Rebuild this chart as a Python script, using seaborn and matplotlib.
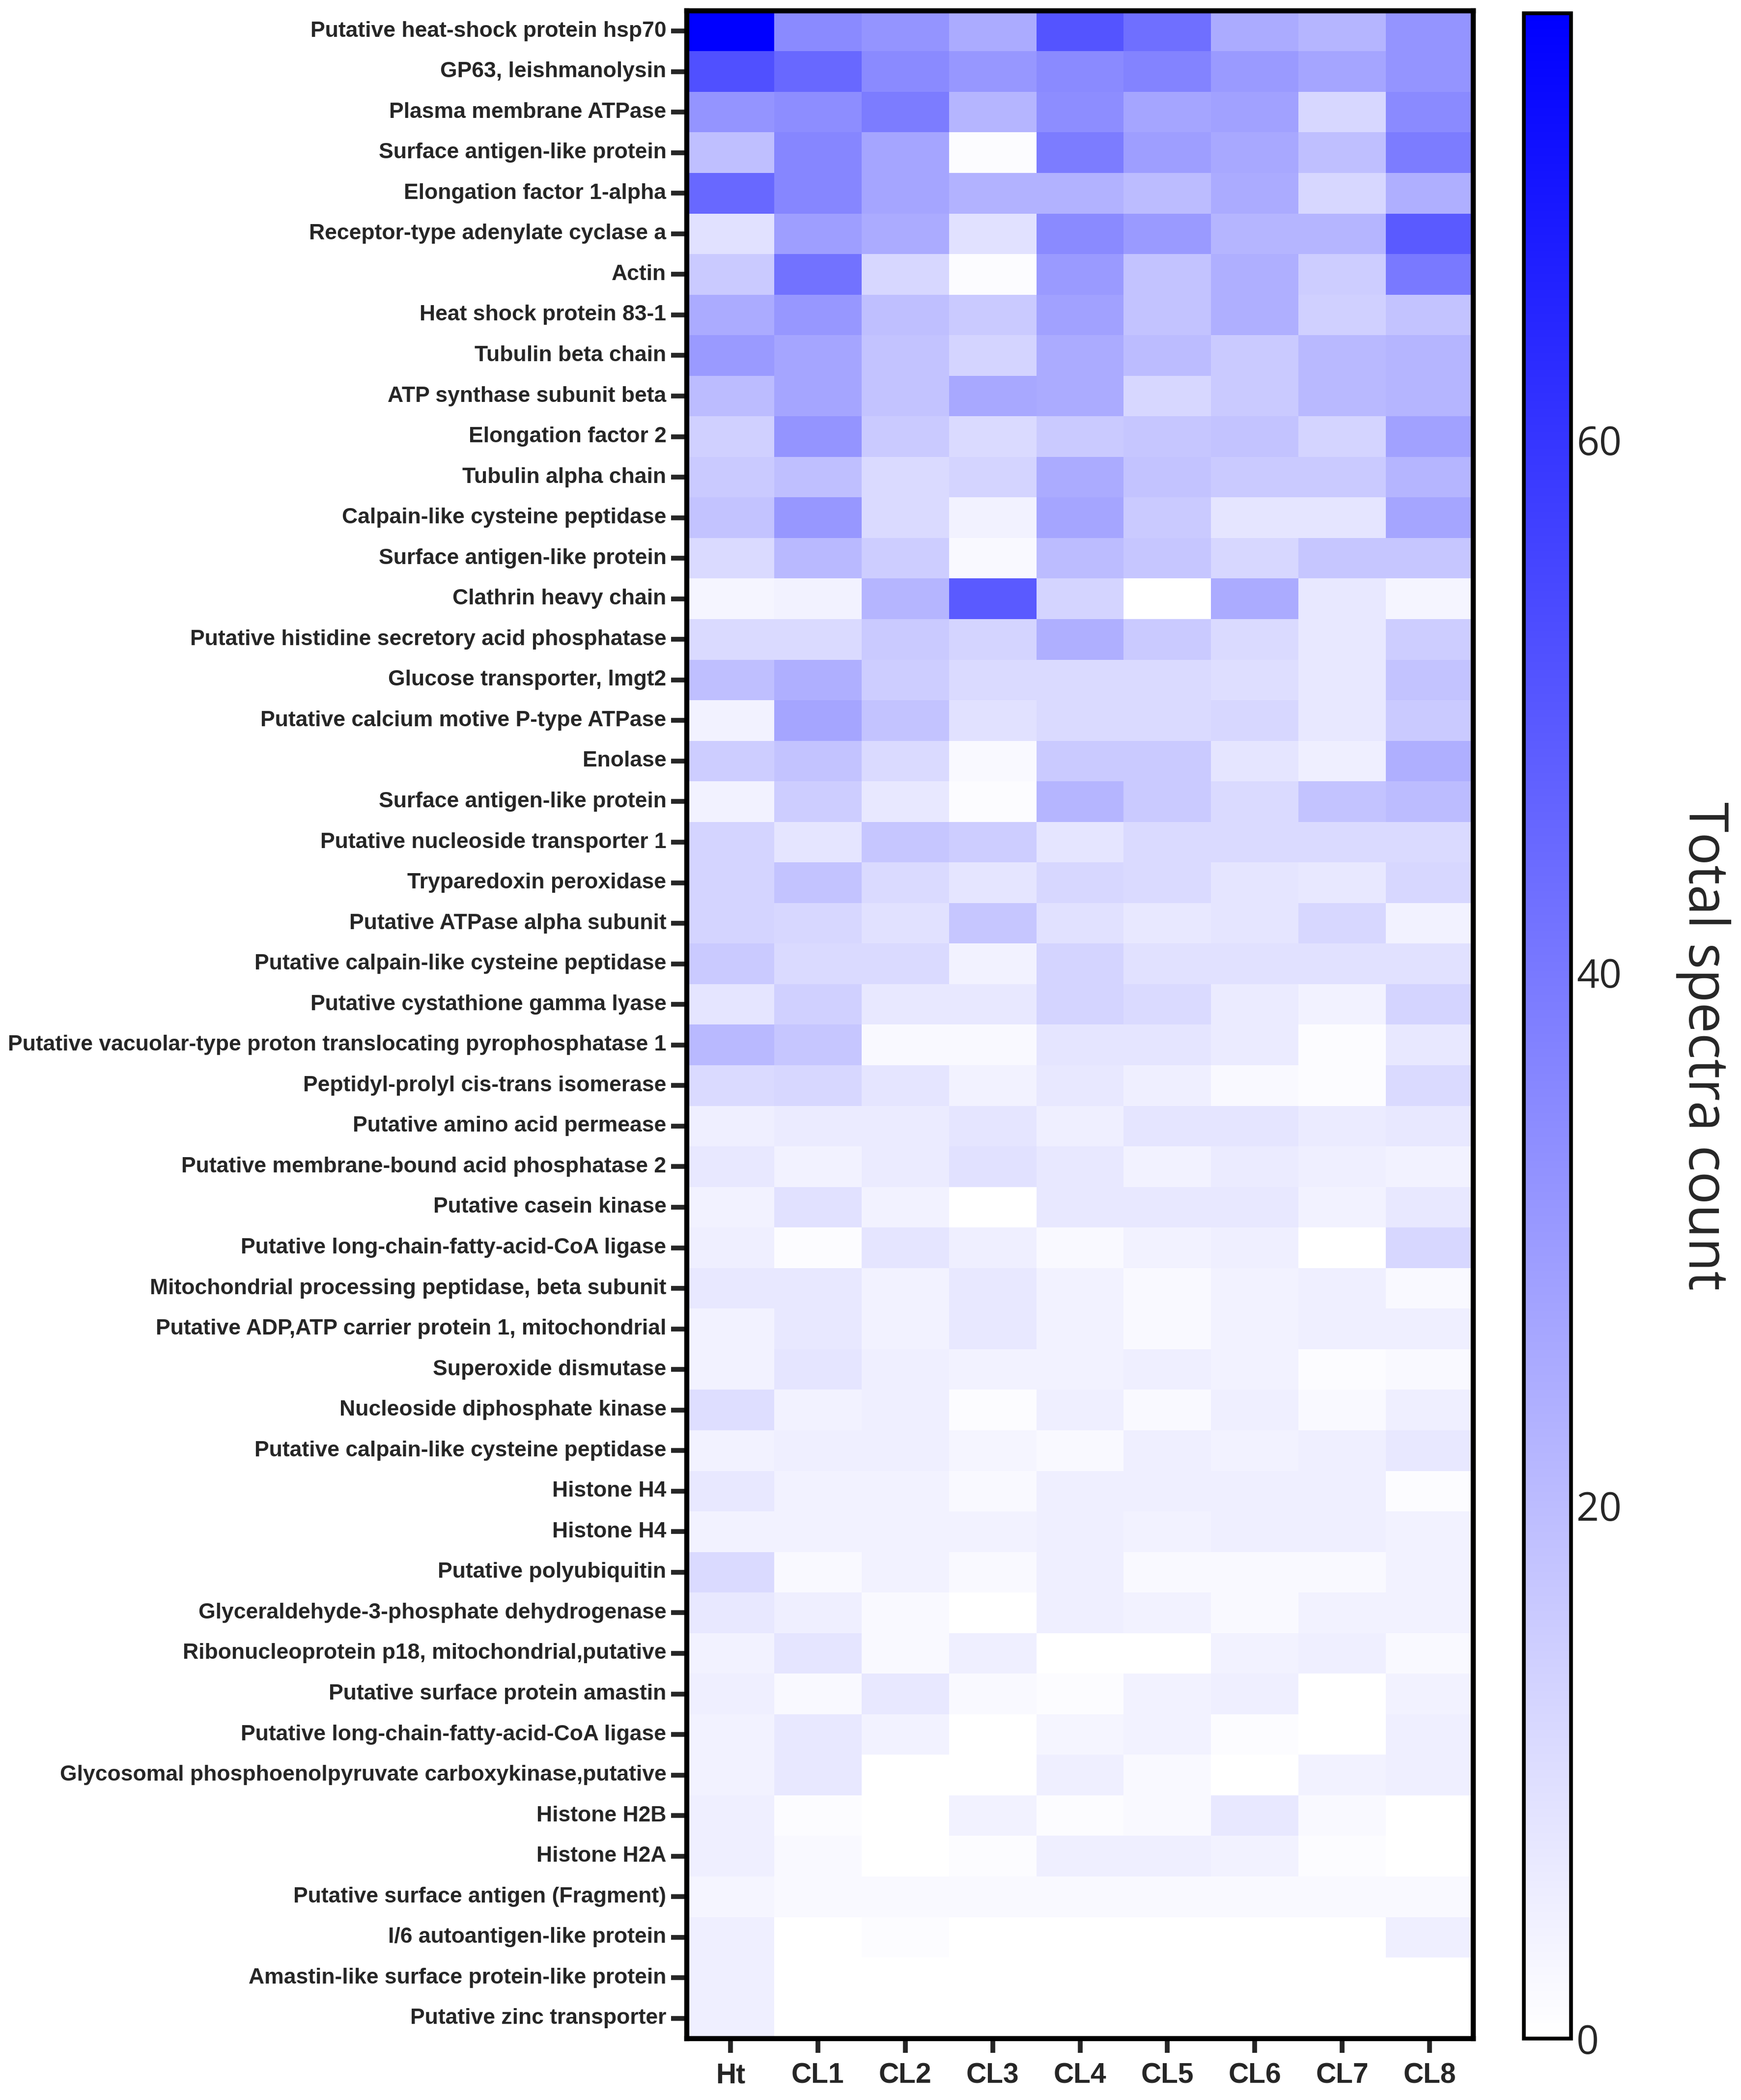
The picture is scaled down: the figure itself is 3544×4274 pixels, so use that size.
import numpy as np
import pandas as pd
import matplotlib
matplotlib.use("Agg")
import matplotlib.pyplot as plt
import seaborn as sns
from matplotlib.colors import LinearSegmentedColormap

# row labels, top to bottom
proteins = [
    "Putative heat-shock protein hsp70",
    "GP63, leishmanolysin",
    "Plasma membrane ATPase",
    "Surface antigen-like protein",
    "Elongation factor 1-alpha",
    "Receptor-type adenylate cyclase a",
    "Actin",
    "Heat shock protein 83-1",
    "Tubulin beta chain",
    "ATP synthase subunit beta",
    "Elongation factor 2",
    "Tubulin alpha chain",
    "Calpain-like cysteine peptidase",
    "Surface antigen-like protein",
    "Clathrin heavy chain",
    "Putative histidine secretory acid phosphatase",
    "Glucose transporter, lmgt2",
    "Putative calcium motive P-type ATPase",
    "Enolase",
    "Surface antigen-like protein",
    "Putative nucleoside transporter 1",
    "Tryparedoxin peroxidase",
    "Putative ATPase alpha subunit",
    "Putative calpain-like cysteine peptidase",
    "Putative cystathione gamma lyase",
    "Putative vacuolar-type proton translocating pyrophosphatase 1",
    "Peptidyl-prolyl cis-trans isomerase",
    "Putative amino acid permease",
    "Putative membrane-bound acid phosphatase 2",
    "Putative casein kinase",
    "Putative long-chain-fatty-acid-CoA ligase",
    "Mitochondrial processing peptidase, beta subunit",
    "Putative ADP,ATP carrier protein 1, mitochondrial",
    "Superoxide dismutase",
    "Nucleoside diphosphate kinase",
    "Putative calpain-like cysteine peptidase",
    "Histone H4",
    "Histone H4",
    "Putative polyubiquitin",
    "Glyceraldehyde-3-phosphate dehydrogenase",
    "Ribonucleoprotein p18, mitochondrial,putative",
    "Putative surface protein amastin",
    "Putative long-chain-fatty-acid-CoA ligase",
    "Glycosomal phosphoenolpyruvate carboxykinase,putative",
    "Histone H2B",
    "Histone H2A",
    "Putative surface antigen (Fragment)",
    "I/6 autoantigen-like protein",
    "Amastin-like surface protein-like protein",
    "Putative zinc transporter",
]

samples = ["Ht", "CL1", "CL2", "CL3", "CL4", "CL5", "CL6", "CL7", "CL8"]

# total spectra count per sample
ht = [76, 52, 32, 19, 45, 9, 16, 25, 30, 20, 14, 16, 18, 11, 3, 11, 19, 4, 15, 4,
      13, 13, 13, 16, 8, 21, 11, 5, 7, 4, 5, 7, 4, 4, 10, 4, 7, 4, 11, 7,
      4, 5, 4, 4, 5, 5, 3, 5, 5, 5]
cl1 = [35, 45, 34, 36, 36, 29, 42, 31, 27, 27, 32, 19, 31, 21, 4, 11, 24, 27, 18, 15,
       8, 18, 12, 11, 14, 17, 12, 6, 4, 9, 1, 7, 7, 8, 4, 5, 4, 4, 2, 5,
       8, 2, 7, 7, 1, 2, 2, 0, 0, 0]
cl2 = [32, 35, 39, 27, 27, 25, 12, 19, 18, 18, 16, 11, 11, 15, 22, 16, 15, 18, 11, 7,
       17, 11, 9, 11, 7, 2, 8, 6, 6, 4, 8, 4, 4, 5, 5, 5, 4, 4, 4, 2,
       2, 7, 4, 0, 0, 0, 2, 1, 0, 0]
cl3 = [25, 31, 22, 1, 23, 9, 1, 16, 13, 26, 11, 13, 4, 2, 49, 13, 11, 9, 2, 1,
       15, 8, 17, 4, 7, 2, 4, 8, 9, 0, 5, 7, 7, 4, 1, 3, 2, 4, 2, 0,
       5, 2, 0, 0, 4, 1, 2, 0, 0, 0]
cl4 = [51, 35, 34, 39, 23, 35, 30, 28, 25, 25, 16, 25, 27, 20, 13, 24, 11, 11, 16, 22,
       8, 12, 9, 13, 13, 8, 7, 5, 7, 7, 2, 4, 4, 4, 5, 2, 5, 5, 5, 5,
       0, 1, 3, 5, 1, 5, 2, 0, 0, 0]
cl5 = [43, 37, 27, 29, 20, 30, 18, 18, 20, 12, 17, 18, 16, 17, 0, 16, 11, 11, 16, 16,
       11, 11, 7, 9, 11, 8, 5, 8, 4, 7, 4, 2, 2, 5, 2, 5, 5, 4, 2, 4,
       0, 4, 4, 2, 2, 5, 2, 0, 0, 0]
cl6 = [25, 30, 28, 26, 25, 22, 24, 24, 16, 16, 18, 16, 8, 12, 25, 11, 10, 12, 8, 11,
       11, 8, 8, 9, 6, 6, 2, 8, 6, 7, 5, 4, 4, 4, 5, 4, 5, 5, 2, 2,
       4, 5, 1, 0, 7, 4, 2, 0, 0, 0]
cl7 = [22, 27, 12, 19, 12, 22, 15, 14, 21, 21, 13, 16, 8, 17, 7, 7, 7, 7, 5, 18,
       11, 7, 12, 9, 4, 1, 1, 6, 5, 4, 0, 5, 5, 1, 2, 5, 5, 5, 2, 4,
       5, 0, 0, 4, 2, 1, 2, 0, 0, 0]
cl8 = [32, 32, 35, 39, 24, 49, 40, 18, 22, 22, 28, 22, 27, 17, 3, 15, 18, 16, 24, 20,
       11, 12, 4, 9, 13, 7, 11, 7, 4, 7, 12, 2, 5, 2, 5, 7, 1, 4, 4, 4,
       2, 4, 5, 5, 0, 0, 2, 5, 0, 0]

cbar_ticks = [0, 20, 40, 60]

df = pd.DataFrame(
    dict(zip(samples, [ht, cl1, cl2, cl3, cl4, cl5, cl6, cl7, cl8])),
    index=proteins,
)

sns.set_style("white")
plt.rcParams["font.family"] = ["Liberation Sans", "DejaVu Sans"]

fig = plt.figure(figsize=(35.44, 42.74), dpi=100)
ax = fig.add_axes([0.3945, 0.0292, 0.4517, 0.9657])
cax = fig.add_axes([0.8753, 0.0292, 0.0271, 0.9645])

cmap = LinearSegmentedColormap.from_list("white_blue", ["#ffffff", "#0000ff"])
sns.heatmap(df, ax=ax, cmap=cmap, vmin=0, vmax=76, cbar_ax=cax,
            linewidths=0, xticklabels=True, yticklabels=True)

# frame round the heatmap
for s in ax.spines.values():
    s.set_visible(True)
    s.set_linewidth(7.5)
    s.set_color("black")

ax.tick_params(axis="y", left=True, length=23, width=7, pad=7,
               labelsize=32, rotation=0)
ax.tick_params(axis="x", bottom=True, length=21, width=7, pad=14,
               labelsize=41, rotation=0)
for lbl in ax.get_yticklabels() + ax.get_xticklabels():
    lbl.set_fontweight("bold")

# colour bar
cbar = ax.collections[0].colorbar
cbar.set_ticks(cbar_ticks)
cbar.outline.set_linewidth(5.5)
cbar.outline.set_edgecolor("black")
cax.tick_params(direction="in", left=True, right=True, length=11, width=2,
                labelsize=58, pad=8)
for lbl in cax.get_yticklabels():
    lbl.set_fontfamily(["Open Sans", "DejaVu Sans"])
cbar.set_label("Total spectra count", rotation=270, fontsize=80,
               family=["Open Sans", "DejaVu Sans"], va="center", ha="center")
cax.yaxis.set_label_coords(3.80, 0.49)

fig.savefig("out.png", dpi=100, facecolor="white")
